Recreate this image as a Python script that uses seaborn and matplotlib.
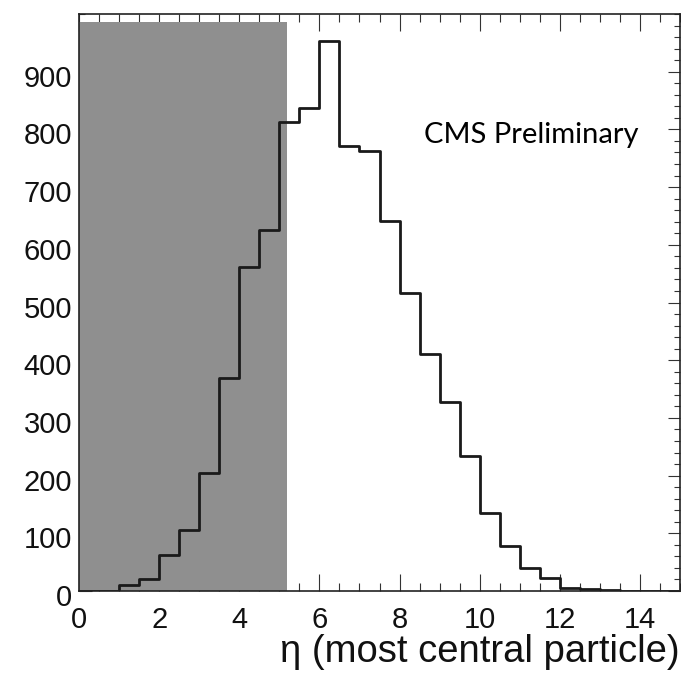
import numpy as np
import pandas as pd
import matplotlib
matplotlib.use("Agg")
import matplotlib.pyplot as plt
import matplotlib.transforms as mtransforms
from matplotlib.ticker import MultipleLocator
import seaborn as sns

# ---- data ----
bin_edges = [i * 0.5 for i in range(31)]  # 0 .. 15
counts = [0, 0, 10, 20, 62, 106, 204, 370, 562, 626,
          812, 837, 954, 772, 763, 642, 516, 410, 328, 234,
          136, 78, 40, 23, 6, 3, 1, 0, 0, 0]
shade_range = [0.0, 5.2]
x_ticks = [0, 2, 4, 6, 8, 10, 12, 14]
y_ticks = [0, 100, 200, 300, 400, 500, 600, 700, 800, 900]
x_label = "η (most central particle)"
annotation = "CMS Preliminary"

centers = [(a + b) / 2 for a, b in zip(bin_edges[:-1], bin_edges[1:])]
df = pd.DataFrame({"eta": centers, "n": counts})

sns.set_theme(style="white")
plt.rcParams["font.family"] = ["Liberation Sans", "DejaVu Sans"]
plt.rcParams["text.color"] = "#111111"
plt.rcParams["axes.labelcolor"] = "#111111"
plt.rcParams["xtick.labelcolor"] = "#111111"
plt.rcParams["ytick.labelcolor"] = "#111111"

fig = plt.figure(figsize=(6.81, 6.74), dpi=100)
W, H = 681, 674
ax = fig.add_axes([79 / W, (H - 591) / H, (680 - 79) / W, (591 - 14) / H])

ax.axvspan(shade_range[0], shade_range[1], ymin=0, ymax=0.987,
           color="#8f8f8f", lw=0, zorder=3)

sns.histplot(data=df, x="eta", weights="n", bins=bin_edges, element="step",
             fill=False, color="#1a1a1a", linewidth=2.0, ax=ax, zorder=4)

ax.set_xlim(0, 15)
ax.set_ylim(0, 1000)
ax.set_xticks(x_ticks)
ax.set_yticks(y_ticks)
ax.xaxis.set_minor_locator(MultipleLocator(0.5))
ax.yaxis.set_minor_locator(MultipleLocator(20))
ax.tick_params(axis="x", which="major", direction="in", length=12, width=0.8,
               top=True, bottom=True, labelsize=21, pad=11, color="#333333",
               labelcolor="#111111")
ax.tick_params(axis="x", which="minor", direction="in", length=6, width=0.8,
               top=True, bottom=True, color="#333333")
ax.tick_params(axis="y", which="major", direction="in", length=9, width=0.8,
               left=True, right=True, labelsize=21, pad=5, color="#333333",
               labelcolor="#111111")
ax.tick_params(axis="y", which="minor", direction="in", length=4.5, width=0.8,
               left=True, right=True, color="#333333")

offset = mtransforms.ScaledTranslation(0, -4 / 100, fig.dpi_scale_trans)
for lab in ax.get_yticklabels():
    lab.set_transform(lab.get_transform() + offset)

for sp in ax.spines.values():
    sp.set_color("#222222")
    sp.set_linewidth(1.2)
    sp.set_zorder(5)

ax.set_ylabel("")
ax.set_xlabel(x_label, fontsize=27.5, loc="right", labelpad=0, color="#111111")

ax.text(0.574, 0.79, annotation, transform=ax.transAxes, fontsize=21,
        family=["Lato", "DejaVu Sans"], ha="left", va="center", color="black")

fig.savefig("out.png", dpi=100)
